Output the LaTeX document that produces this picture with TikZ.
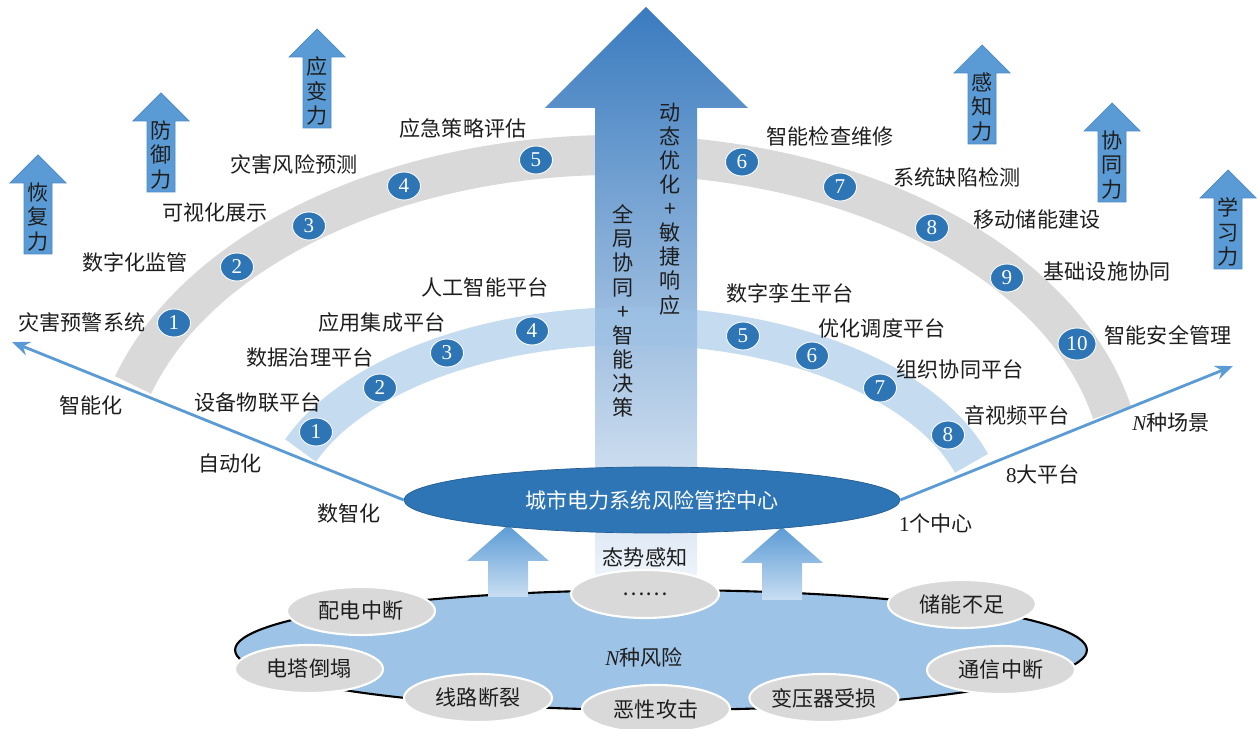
\documentclass[tikz,border=0pt]{standalone}
\usepackage{fontspec}
\setmainfont{Liberation Serif}
\newfontfamily\cjk{Noto Sans CJK SC}
\usetikzlibrary{arrows.meta,shapes.geometric}

\definecolor{bandgray}{HTML}{D9D9D9}
\definecolor{bandblue}{HTML}{9DC3E6}
\definecolor{numblue}{HTML}{2E75B6}
\definecolor{lineblue}{HTML}{5B9BD5}
\definecolor{arrowedge}{HTML}{4A88C4}
\definecolor{riskblue}{HTML}{9DC3E6}
\definecolor{riskgray}{HTML}{D9D9D9}
\definecolor{hubblue}{HTML}{2E75B6}
\definecolor{bigtop}{HTML}{3A7BBF}
\definecolor{bigmid}{HTML}{A0C3E6}
\definecolor{bigbot}{HTML}{EDF3FA}
\definecolor{upbot}{HTML}{C9DEF2}
\definecolor{txt}{HTML}{1E1E1E}

\begin{document}
\begin{tikzpicture}[x=0.02cm, y=-0.02cm,
	lbl/.style={inner sep=0pt, text=txt, font=\cjk\fontsize{12}{14}\selectfont},
	vtxt/.style={lbl, align=center, font=\cjk\fontsize{12}{13.7}\selectfont},
	num/.style={ellipse, fill=numblue, draw=white, line width=0.5pt, text=white, inner sep=0pt,
		minimum width=0.66cm, minimum height=0.56cm, font=\fontsize{12}{12}\selectfont},
	band/.style={line width=0.8cm},
	riskitem/.style={ellipse, fill=riskgray, draw=white, line width=1.2pt, inner sep=0pt,
		minimum width=2.96cm, minimum height=0.96cm, text=txt, font=\cjk\fontsize{12}{14}\selectfont},
	powerarrow/.style={fill=lineblue, draw=arrowedge, line width=0.4pt},
	scenline/.style={lineblue, line width=1.6pt, -{Stealth[length=10pt, width=8pt]}}
]
	\fill[white] (0,0) rectangle (1259,729);
	\useasboundingbox (0,0) rectangle (1259,729);

	% capability arrows
	\foreach \x/\y/\t/\nm in {38/155/{恢\\复\\力}/recov, 161/93/{防\\御\\力}/defend, 317/29/{应\\变\\力}/adapt,
		982/45/{感\\知\\力}/sense, 1112/103/{协\\同\\力}/coop, 1228/170/{学\\习\\力}/learn}
	{
		\fill[powerarrow] (\x,\y) -- ++(28,28) -- ++(-14,0) -- ++(0,71) -- ++(-28,0) -- ++(0,-71) -- ++(-14,0) -- cycle;
		\node[vtxt] (\nm) at (\x,\y+62) {\t};
	}

	% outer scenario band
	\draw[band, bandgray] (617,480) ++(-163:506 and 325) arc[start angle=-163, end angle=-12, x radius=506, y radius=325];

	% main upward arrow
	\shade[top color=bigtop, middle color=bigmid, bottom color=bigbot]
		(646,7) -- (748,108) -- (697,108) -- (697,575) -- (595,575) -- (595,108) -- (545,108) -- cycle;

	% platform band
	\draw[band, bandblue, draw opacity=0.6, line width=0.76cm] (632,520) ++(-159:355 and 194) arc[start angle=-159, end angle=-17, x radius=355, y radius=194];

	\node[vtxt] (dyn) at (670,209) {动\\态\\优\\化\\+\\敏\\捷\\响\\应};
	\node[vtxt] (glob) at (623,311) {全\\局\\协\\同\\+\\智\\能\\决\\策};

	% scenarios
	\node[num] (n1) at (174,323) {1};
	\node[num] (n2) at (237,267) {2};
	\node[num] (n3) at (309,226) {3};
	\node[num] (n4) at (404,186) {4};
	\node[num] (n5) at (536,160) {5};
	\node[num] (n6) at (742,162) {6};
	\node[num] (n7) at (840,187) {7};
	\node[num] (n8) at (932,228) {8};
	\node[num] (n9) at (1007,278) {9};
	\node[num, minimum width=0.76cm, minimum height=0.64cm] (n10) at (1077,344) {10};

	\node[lbl] (s1) at (82,322) {灾害预警系统};
	\node[lbl] (s2) at (135,262) {数字化监管};
	\node[lbl] (s3) at (215,213) {可视化展示};
	\node[lbl] (s4) at (294,164) {灾害风险预测};
	\node[lbl] (s5) at (463,128) {应急策略评估};
	\node[lbl] (s6) at (830,136) {智能检查维修};
	\node[lbl] (s7) at (957,177) {系统缺陷检测};
	\node[lbl] (s8) at (1037,220) {移动储能建设};
	\node[lbl] (s9) at (1107,272) {基础设施协同};
	\node[lbl] (s10) at (1168,335) {智能安全管理};

	% platforms
	\node[num] (m1) at (316,432) {1};
	\node[num] (m2) at (380,388) {2};
	\node[num] (m3) at (447,353) {3};
	\node[num] (m4) at (532,331) {4};
	\node[num] (m5) at (743,336) {5};
	\node[num] (m6) at (812,356) {6};
	\node[num] (m7) at (880,388) {7};
	\node[num] (m8) at (948,435) {8};

	\node[lbl] (p1) at (258,403) {设备物联平台};
	\node[lbl] (p2) at (310,357) {数据治理平台};
	\node[lbl] (p3) at (382,322) {应用集成平台};
	\node[lbl] (p4) at (485,287) {人工智能平台};
	\node[lbl] (p5) at (790,293) {数字孪生平台};
	\node[lbl] (p6) at (882,328) {优化调度平台};
	\node[lbl] (p7) at (960,369) {组织协同平台};
	\node[lbl] (p8) at (1017,415) {音视频平台};

	% risks
	\node[ellipse, fill=riskblue, draw=black, line width=1.2pt, minimum width=17.04cm, minimum height=2.4cm] (risks) at (661,650) {};
	\shade[top color=lineblue, bottom color=upbot]
		(508,525) -- (549,561) -- (528,561) -- (528,597) -- (488,597) -- (488,561) -- (467,561) -- cycle;
	\shade[top color=lineblue, bottom color=upbot]
		(782,527) -- (823,563) -- (802,563) -- (802,600) -- (762,600) -- (762,563) -- (741,563) -- cycle;

	% control center
	\node[ellipse, fill=hubblue, draw=hubblue!80!black, line width=0.4pt, minimum width=9.92cm, minimum height=1.32cm,
		text=white, font=\cjk\fontsize{12}{14}\selectfont] (hub) at (652,500) {城市电力系统风险管控中心};
	\coordinate (leftend) at (12,342);
	\coordinate (rightend) at (1233,366);
	\draw[scenline] (hub.west) -- (leftend);
	\draw[scenline] (hub.east) -- (rightend);

	\node[riskitem] (r1) at (361,611) {配电中断};
	\node[riskitem] (r2) at (309,669) {电塔倒塌};
	\node[riskitem] (r3) at (478,698) {线路断裂};
	\node[riskitem] (r4) at (656,709) {恶性攻击};
	\node[riskitem] (r5) at (824,698) {变压器受损};
	\node[riskitem] (r6) at (1001,670) {通信中断};
	\node[riskitem] (r7) at (962,604) {储能不足};
	\node[riskitem] (r8) at (645,594) {……};

	\node[lbl] (nrisk) at (644,657) {{\rmfamily\itshape N}种风险};
	\node[lbl] (aware) at (645,557) {态势感知};
	\node[lbl] (lvl3) at (91,405) {智能化};
	\node[lbl] (lvl2) at (230,463) {自动化};
	\node[lbl] (lvl1) at (349,513) {数智化};
	\node[lbl] (nscen) at (1171,423) {{\rmfamily\itshape N}种场景};
	\node[lbl] (eight) at (1043,474) {{\rmfamily 8}大平台};
	\node[lbl] (one) at (936,523) {{\rmfamily 1}个中心};
\end{tikzpicture}
\end{document}
